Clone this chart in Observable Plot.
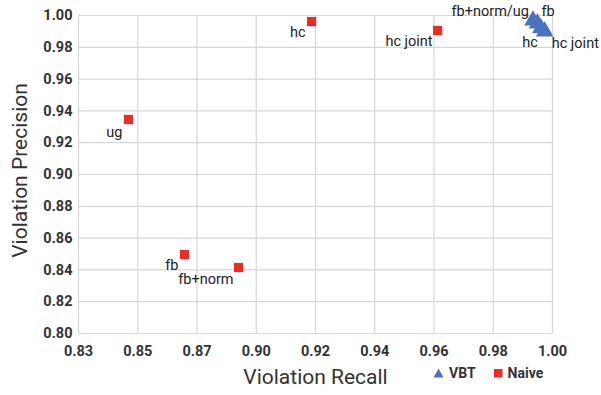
<!DOCTYPE html>
<html>
<head>
<meta charset="utf-8">
<script src="https://cdn.jsdelivr.net/npm/d3@7"></script>
<script src="https://cdn.jsdelivr.net/npm/@observablehq/plot@0.6"></script>
<style>
  html, body { margin: 0; padding: 0; background: #fff; }
  #wrap { position: relative; width: 601px; height: 395px; font-family: Roboto, "Liberation Sans", sans-serif; }
  #legend { position: absolute; left: 433px; top: 365px; display: flex; align-items: center; font-size: 14px; font-weight: 700; color: #333; }
  #legend span { margin-right: 17px; }
  #legend svg { margin-right: 5px; }
</style>
</head>
<body>
<div id="wrap"></div>
<script>
// Data
const naiveLabels = ["hc", "ug", "fb", "fb+norm", "hc joint"];
const naiveRecall = [0.9136, 0.8479, 0.8680, 0.8874, 0.9588];
const naivePrecision = [0.9962, 0.9346, 0.8497, 0.8415, 0.9906];

const vbtLabels = ["fb+norm/ug", "fb", "hc", "hc joint"];
const vbtRecall = [0.9930, 0.9946, 0.9958, 0.9972];
const vbtPrecision = [0.9969, 0.9950, 0.9920, 0.9900];

const xTickLabels = ["0.83", "0.85", "0.87", "0.90", "0.92", "0.94", "0.96", "0.98", "1.00"];
const yTicks = [0.80, 0.82, 0.84, 0.86, 0.88, 0.90, 0.92, 0.94, 0.96, 0.98, 1.00];

// label offsets (style)
const naiveOffsets = [[-6, 11, "end"], [-6, 13, "end"], [-6, 11, "end"], [-5, 12, "end"], [-5, 11, "end"]];
const vbtOffsets = [[-4, -9, "end"], [4, -12, "start"], [-3, 14, "end"], [7, 12, "start"]];

const naive = naiveLabels.map((l, i) => ({label: l, x: naiveRecall[i], y: naivePrecision[i], dx: naiveOffsets[i][0], dy: naiveOffsets[i][1], anchor: naiveOffsets[i][2]}));
const vbt = vbtLabels.map((l, i) => ({label: l, x: vbtRecall[i], y: vbtPrecision[i], dx: vbtOffsets[i][0], dy: vbtOffsets[i][1], anchor: vbtOffsets[i][2]}));

const xDomain = [0.83, 1.00];
const xTickPos = xTickLabels.map((_, i) => xDomain[0] + i * (xDomain[1] - xDomain[0]) / (xTickLabels.length - 1));

const gridColor = "#d3d6db";
const red = "#ee2a24";
const blue = "#4a72c0";

function textMarks(data) {
  return data.map(d => Plot.text([d], {x: "x", y: "y", text: "label", textAnchor: d.anchor, dx: d.dx, dy: d.dy, fontSize: 14.5, fill: "#222"}));
}

const chart = Plot.plot({
  width: 601,
  height: 395,
  marginLeft: 78,
  marginRight: 49,
  marginTop: 15,
  marginBottom: 62,
  style: {fontFamily: "Roboto, 'Liberation Sans', sans-serif", background: "#fff", overflow: "visible"},
  x: {domain: xDomain, label: null},
  y: {domain: [0.80, 1.00], label: null},
  marks: [
    Plot.gridX(xTickPos, {stroke: gridColor, strokeOpacity: 1, strokeWidth: 1.2}),
    Plot.gridY(yTicks, {stroke: gridColor, strokeOpacity: 1, strokeWidth: 1.2}),
    Plot.axisX({ticks: xTickPos, tickFormat: (d, i) => xTickLabels[i], tickSize: 0, tickPadding: 12, fontSize: 14.5, fontWeight: 700, fill: "#333", label: null}),
    Plot.axisY({ticks: yTicks, tickFormat: ".2f", tickSize: 0, tickPadding: 6, fontSize: 14.5, fontWeight: 700, fill: "#333", label: null}),
    Plot.text(["Violation Recall"], {frameAnchor: "bottom", dy: 50, fontSize: 21, fill: "#333"}),
    Plot.text(["Violation Precision"], {frameAnchor: "left", textAnchor: "middle", dx: -58, dy: -4, rotate: -90, fontSize: 21, fill: "#333"}),
    Plot.dot(naive, {x: "x", y: "y", symbol: "square", r: 5.2, fill: red, stroke: "none"}),
    Plot.dot(vbt, {x: "x", y: "y", symbol: "triangle", r: 6.5, fill: blue, stroke: "none"}),
    ...textMarks(naive),
    ...textMarks(vbt)
  ]
});

const wrap = document.getElementById("wrap");
wrap.appendChild(chart);

const legend = document.createElement("div");
legend.id = "legend";
legend.innerHTML = `<svg width="11" height="10"><polygon points="5.5,0.5 10.5,9.5 0.5,9.5" fill="${blue}"/></svg><span>VBT</span><svg width="10" height="10"><rect x="1" y="1" width="8.5" height="8.5" fill="${red}"/></svg><span>Naive</span>`;
wrap.appendChild(legend);
</script>
</body>
</html>
